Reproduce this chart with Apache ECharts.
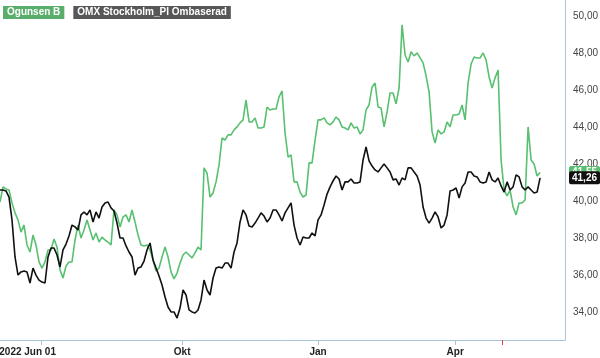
<!DOCTYPE html>
<html>
<head>
<meta charset="utf-8">
<script src="https://cdn.jsdelivr.net/npm/echarts@6/dist/echarts.min.js"></script>
<style>
html,body{margin:0;padding:0;background:#fff;}
#chart{width:600px;height:358px;}
</style>
</head>
<body>
<div id="chart"></div>
<script>
const seriesNames = ['Ogunsen B', 'OMX Stockholm_PI Ombaserad'];
const tickPositions = [13.7, 60.7, 106, 151.7];
const tickLabels = ['2022 Jun 01', 'Okt', 'Jan', 'Apr'];
const markerPositions = [167.3];
const yTickValues = [34, 36, 38, 40, 42, 44, 46, 48, 50];

const greenValues = [
 39.95,40.77,40.66,40.60,39.90,39.36,38.98,38.32,38.70,37.62,
 37.24,38.16,37.62,36.70,36.37,36.70,37.35,37.35,37.95,37.51,
 36.27,35.83,36.48,36.70,36.70,37.89,38.70,38.00,38.43,38.98,
 38.43,37.89,38.27,37.78,38.05,37.89,37.78,37.62,39.52,39.25,
 38.60,39.14,39.25,38.87,39.52,38.87,38.16,37.62,37.57,37.62,
 37.35,36.81,36.21,36.37,36.97,37.51,36.97,36.16,35.78,36.10,
 36.64,37.08,37.24,37.08,36.92,37.19,37.51,37.35,41.80,41.52,
 40.22,40.44,41.04,41.96,43.42,43.31,43.59,43.59,43.86,44.02,
 44.24,44.40,45.48,44.29,44.29,44.51,43.96,43.96,44.02,45.10,
 44.94,44.99,44.99,45.65,45.97,43.69,42.39,42.50,41.04,41.04,
 40.49,40.22,40.33,42.07,42.07,43.31,44.40,44.40,44.51,44.24,
 44.13,44.29,44.56,44.40,44.02,43.96,43.86,44.24,43.96,44.02,
 43.64,43.86,44.94,45.21,46.19,46.40,45.10,45.05,44.02,44.83,
 45.86,45.86,45.27,46.13,49.55,47.92,47.54,48.09,47.87,48.03,
 47.76,47.49,46.79,45.92,43.75,43.15,43.86,43.64,43.75,44.29,
 44.02,44.67,44.67,44.72,45.21,44.40,46.40,47.43,47.81,47.76,
 47.76,48.03,47.65,46.73,46.13,46.68,47.11,42.23,40.60,40.28,
 40.60,39.68,39.25,39.90,39.90,40.06,44.02,42.23,42.01,41.36,
 41.55
];

const blackValues = [
 40.60,40.60,40.55,40.22,38.98,36.97,35.99,36.16,36.21,36.16,
 35.56,36.37,35.99,35.72,35.61,35.56,36.97,37.46,37.46,37.08,
 36.43,37.35,37.67,38.11,38.70,38.60,38.43,39.25,39.41,39.25,
 39.52,38.87,39.41,39.08,39.68,39.90,39.95,39.63,39.46,38.81,
 38.00,38.00,37.57,37.24,36.97,35.99,36.37,36.43,36.75,37.35,
 37.73,36.81,36.37,35.94,35.45,34.80,34.26,33.99,33.99,33.66,
 34.20,35.18,34.91,34.10,33.99,33.93,34.10,34.64,35.72,35.18,
 34.91,35.83,36.37,36.43,36.37,36.64,36.64,36.37,37.24,37.73,
 38.87,39.52,39.25,38.65,38.60,38.81,39.08,39.36,39.19,38.87,
 39.08,39.52,39.52,39.25,38.92,39.36,39.63,39.90,38.70,38.00,
 37.62,38.05,38.00,38.00,38.27,38.11,38.98,39.25,39.79,40.38,
 40.77,41.09,41.36,41.20,40.60,41.04,41.04,41.20,40.98,40.98,
 41.04,42.23,42.93,42.18,41.90,41.69,41.58,41.80,42.01,41.80,
 41.58,41.15,41.20,40.87,41.25,41.15,41.80,41.80,41.58,41.36,
 40.87,39.68,39.08,38.81,39.08,39.41,39.14,38.54,38.70,39.25,
 40.55,40.60,40.71,40.17,40.77,40.98,41.58,41.58,41.36,41.31,
 41.04,40.98,41.04,41.58,41.15,41.04,41.25,40.82,40.49,41.04,
 40.60,40.77,41.42,41.31,40.77,40.60,40.77,40.60,40.44,40.49,
 41.26
];

const GREEN = '#58c070';
const BLACK = '#111111';
const AXIS = '#a9c4d6';

const fmt = v => v.toFixed(2).replace('.', ',');
const toData = arr => arr.map((v, i) => [i, v]);

function endTag(values, color) {
  const last = values[values.length - 1];
  return {
    silent: true,
    symbol: ['none', 'none'],
    lineStyle: { color: 'rgba(0,0,0,0)', width: 0, type: 'solid' },
    emphasis: { disabled: true },
    label: {
      show: true,
      position: 'end',
      distance: 4,
      formatter: fmt(last),
      backgroundColor: color,
      color: '#fff',
      fontFamily: 'Liberation Sans, Arial, sans-serif',
      fontSize: 10,
      fontWeight: 'bold',
      padding: [2, 3, 1, 3],
      borderRadius: 2
    },
    data: [{ yAxis: last }]
  };
}

const chart = echarts.init(document.getElementById('chart'), null, { renderer: 'canvas' });
chart.setOption({
  animation: false,
  backgroundColor: '#fff',
  textStyle: { fontFamily: 'Liberation Sans, Arial, sans-serif' },
  grid: { left: 0, right: 35, top: 0, bottom: 18, outerBoundsMode: 'none' },
  legend: {
    left: -7,
    top: 1,
    itemWidth: 0,
    itemHeight: 0,
    itemGap: 4,
    icon: 'rect',
    selectedMode: false,
    data: [
      { name: seriesNames[0], textStyle: { backgroundColor: '#5aae6b', color: '#fff', padding: [2, 4, 1, 4] } },
      { name: seriesNames[1], textStyle: { backgroundColor: '#575757', color: '#fff', padding: [2, 4, 1, 4] } }
    ],
    textStyle: { fontSize: 10, fontWeight: 'bold', fontFamily: 'Liberation Sans, Arial, sans-serif' }
  },
  xAxis: [
    {
      type: 'value',
      min: 0,
      max: 188.3,
      position: 'bottom',
      axisLine: { show: true, onZero: false, lineStyle: { color: AXIS, width: 1 } },
      axisTick: { show: true, customValues: tickPositions, length: 5, lineStyle: { color: AXIS } },
      splitLine: { show: false },
      axisLabel: {
        show: true,
        customValues: tickPositions,
        margin: 7,
        fontSize: 10,
        fontWeight: 'bold',
        color: '#222',
        formatter: function (v) {
          const k = tickPositions.findIndex(p => Math.abs(p - v) < 0.01);
          if (k < 0) return '';
          return k === 0 ? '{first|' + tickLabels[k] + '}' : tickLabels[k];
        },
        rich: {
          first: { fontSize: 10, fontWeight: 'bold', color: '#222', padding: [0, 27, 0, 0] }
        }
      }
    },
    {
      type: 'value',
      min: 0,
      max: 188.3,
      position: 'bottom',
      axisLine: { show: false, onZero: false },
      axisTick: { show: true, customValues: markerPositions, length: 5, lineStyle: { color: '#e0403a' } },
      axisLabel: { show: false },
      splitLine: { show: false }
    }
  ],
  yAxis: {
    type: 'value',
    position: 'right',
    min: 32.47,
    max: 50.9,
    axisLine: { show: true, onZero: false, lineStyle: { color: AXIS, width: 1 } },
    axisTick: { show: false },
    splitLine: { show: false },
    axisLabel: {
      customValues: yTickValues,
      margin: 8,
      fontSize: 10,
      color: '#444',
      formatter: v => fmt(v)
    }
  },
  series: [
    {
      name: seriesNames[0],
      type: 'line',
      data: toData(greenValues),
      showSymbol: false,
      color: GREEN,
      lineStyle: { width: 1.6, color: GREEN },
      markLine: endTag(greenValues, GREEN),
      z: 2
    },
    {
      name: seriesNames[1],
      type: 'line',
      data: toData(blackValues),
      showSymbol: false,
      color: BLACK,
      lineStyle: { width: 1.6, color: BLACK },
      markLine: endTag(blackValues, BLACK),
      z: 3
    }
  ]
});
</script>
</body>
</html>
